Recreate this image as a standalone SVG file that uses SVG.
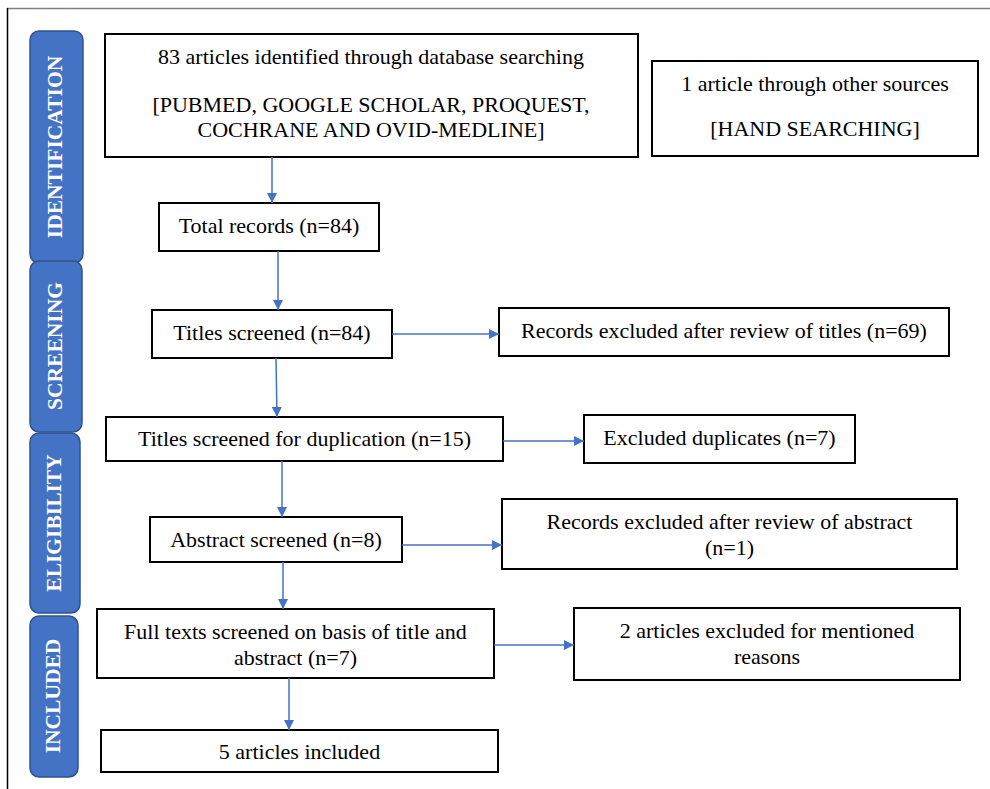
<svg xmlns="http://www.w3.org/2000/svg" width="990" height="789" viewBox="0 0 990 789">
<defs>
<marker id="ah" viewBox="0 0 10 10" refX="10" refY="5" markerWidth="10" markerHeight="10" markerUnits="userSpaceOnUse" orient="auto">
<path d="M0,0 L10,5 L0,10 z" fill="#4472C4"/>
</marker>
<style>
.box{fill:#fff;stroke:#000;stroke-width:2}
.t{font-family:'Liberation Serif','Times New Roman',Tinos,serif;font-size:22px;font-weight:400;fill:#000;text-anchor:middle}
.tab{fill:#4472C4;stroke:#2F528F;stroke-width:1.5}
.tt{font-family:'Liberation Serif','Times New Roman',Tinos,serif;font-size:21.5px;font-weight:bold;fill:#fff;text-anchor:middle}
.c{stroke:#4472C4;stroke-width:1.5;fill:none;marker-end:url(#ah)}
</style>
</defs>
<rect x="0" y="0" width="990" height="789" fill="#fff"/>
<line x1="7" y1="8.5" x2="990" y2="8.5" stroke="#808080" stroke-width="1.5"/>
<line x1="7.5" y1="8" x2="7.5" y2="789" stroke="#000" stroke-width="1.5"/>

<g id="tab-identification"><rect class="tab" x="30" y="31" width="53" height="232" rx="9"/><text class="tt" transform="translate(62,147) rotate(-90)">IDENTIFICATION</text></g>
<g id="tab-screening"><rect class="tab" x="30" y="261" width="52" height="171" rx="9"/><text class="tt" transform="translate(62,346) rotate(-90)">SCREENING</text></g>
<g id="tab-eligibility"><rect class="tab" x="30" y="433" width="50" height="180" rx="9"/><text class="tt" transform="translate(61,523) rotate(-90)">ELIGIBILITY</text></g>
<g id="tab-included"><rect class="tab" x="30" y="616" width="48" height="161" rx="9"/><text class="tt" transform="translate(60,696) rotate(-90)">INCLUDED</text></g>

<g id="n-db"><rect class="box" x="105" y="34" width="533" height="123"/>
<text class="t" x="371" y="64">83 articles identified through database searching</text>
<text class="t" x="371" y="112">[PUBMED, GOOGLE SCHOLAR, PROQUEST,</text>
<text class="t" x="371" y="137">COCHRANE AND OVID-MEDLINE]</text></g>
<g id="n-other"><rect class="box" x="652" y="61" width="326" height="95"/>
<text class="t" x="815" y="91">1 article through other sources</text>
<text class="t" x="815" y="136">[HAND SEARCHING]</text></g>
<g id="n-total"><rect class="box" x="159" y="203" width="220" height="48"/>
<text class="t" x="269" y="233">Total records (n=84)</text></g>
<g id="n-titles"><rect class="box" x="152" y="310" width="240" height="48"/>
<text class="t" x="272" y="340">Titles screened (n=84)</text></g>
<g id="n-excl-titles"><rect class="box" x="499" y="308" width="450" height="48"/>
<text class="t" x="724" y="338">Records excluded after review of titles (n=69)</text></g>
<g id="n-dup"><rect class="box" x="106" y="417" width="397" height="44"/>
<text class="t" x="304.5" y="446">Titles screened for duplication (n=15)</text></g>
<g id="n-excl-dup"><rect class="box" x="584" y="415" width="271" height="48"/>
<text class="t" x="719.5" y="445">Excluded duplicates (n=7)</text></g>
<g id="n-abstract"><rect class="box" x="150" y="517" width="252" height="45"/>
<text class="t" x="276" y="547">Abstract screened (n=8)</text></g>
<g id="n-excl-abs"><rect class="box" x="502" y="499" width="455" height="70"/>
<text class="t" x="729.5" y="529">Records excluded after review of abstract</text>
<text class="t" x="729.5" y="555">(n=1)</text></g>
<g id="n-full"><rect class="box" x="97" y="609" width="397" height="69"/>
<text class="t" x="295.5" y="639">Full texts screened on basis of title and</text>
<text class="t" x="295.5" y="665">abstract (n=7)</text></g>
<g id="n-excl-full"><rect class="box" x="574" y="608" width="386" height="72"/>
<text class="t" x="767" y="638">2 articles excluded for mentioned</text>
<text class="t" x="767" y="664">reasons</text></g>
<g id="n-included"><rect class="box" x="101" y="730" width="397" height="42"/>
<text class="t" x="299.5" y="759">5 articles included</text></g>

<g id="connectors">
<line class="c" x1="272" y1="157" x2="272" y2="203"/>
<line class="c" x1="278" y1="251" x2="278" y2="310"/>
<line class="c" x1="276" y1="358" x2="277" y2="417"/>
<line class="c" x1="282" y1="461" x2="282" y2="517"/>
<line class="c" x1="283" y1="562" x2="283" y2="609"/>
<line class="c" x1="289" y1="678" x2="289" y2="730"/>
<line class="c" x1="392" y1="334" x2="499" y2="334"/>
<line class="c" x1="503" y1="441" x2="584" y2="441"/>
<line class="c" x1="402" y1="545" x2="502" y2="545"/>
<line class="c" x1="494" y1="645" x2="574" y2="645"/>
</g>
</svg>
